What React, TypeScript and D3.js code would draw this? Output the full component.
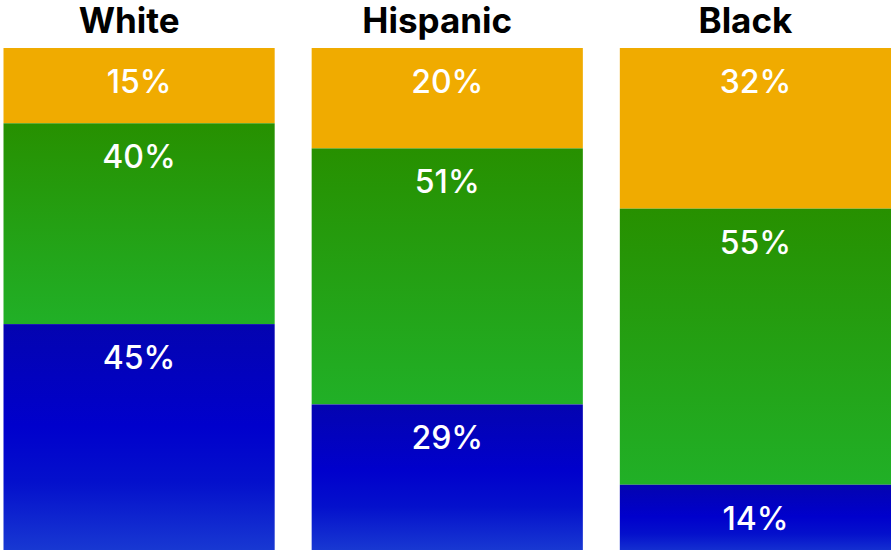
import React from "react";
import * as d3 from "d3";

const groups = ["White", "Hispanic", "Black"];
const segments = ["top", "middle", "bottom"];
const topValues = [15, 20, 32];
const middleValues = [40, 51, 55];
const bottomValues = [45, 29, 14];

const W = 891;
const H = 550;

export default function App() {
  const x = d3.scaleBand<string>().domain(groups).range([3.5, 891]).paddingInner(0.12).paddingOuter(0);
  const y = d3.scaleLinear().domain([0, 100]).range([48, 550]);

  const rows = groups.map((g, i) => ({
    group: g,
    top: topValues[i],
    middle: middleValues[i],
    bottom: bottomValues[i],
  }));
  const stacked = d3.stack<any>().keys(segments)(rows);
  const fills: Record<string, string> = {
    top: "#f0ab00",
    middle: "url(#gGreen)",
    bottom: "url(#gBlue)",
  };

  return (
    <svg width={W} height={H} style={{ position: "absolute", left: 0, top: 0, display: "block" }}>
      <defs>
        <linearGradient id="gGreen" x1="0" y1="0" x2="0" y2="1">
          <stop offset="0%" stopColor="#279000" />
          <stop offset="100%" stopColor="#21b027" />
        </linearGradient>
        <linearGradient id="gBlue" x1="0" y1="0" x2="0" y2="1">
          <stop offset="0%" stopColor="#0404b0" />
          <stop offset="45%" stopColor="#0000cc" />
          <stop offset="70%" stopColor="#0410cc" />
          <stop offset="100%" stopColor="#1838d2" />
        </linearGradient>
      </defs>
      <rect x={0} y={0} width={W} height={H} fill="#ffffff" />
      {stacked.map((layer) =>
        layer.map((d, i) => {
          const g = groups[i];
          const x0 = x(g)!;
          const y0 = y(d[0]);
          const y1 = y(d[1]);
          const v = d[1] - d[0];
          return (
            <g key={layer.key + g}>
              <rect x={x0} y={y0} width={x.bandwidth()} height={y1 - y0} fill={fills[layer.key]} />
              <text
                x={x0 + x.bandwidth() / 2}
                y={y0 + 45}
                textAnchor="middle"
                fill="#ffffff"
                fontFamily="Inter, sans-serif"
                fontWeight={500}
                fontSize={32}
              >
                {`${v}%`}
              </text>
            </g>
          );
        })
      )}
      {groups.map((g) => (
        <text
          key={g}
          x={x(g)! + x.bandwidth() / 2 - 10}
          y={33}
          textAnchor="middle"
          fill="#000000"
          fontFamily="Inter, sans-serif"
          fontWeight={700}
          fontSize={35}
        >
          {g}
        </text>
      ))}
    </svg>
  );
}
